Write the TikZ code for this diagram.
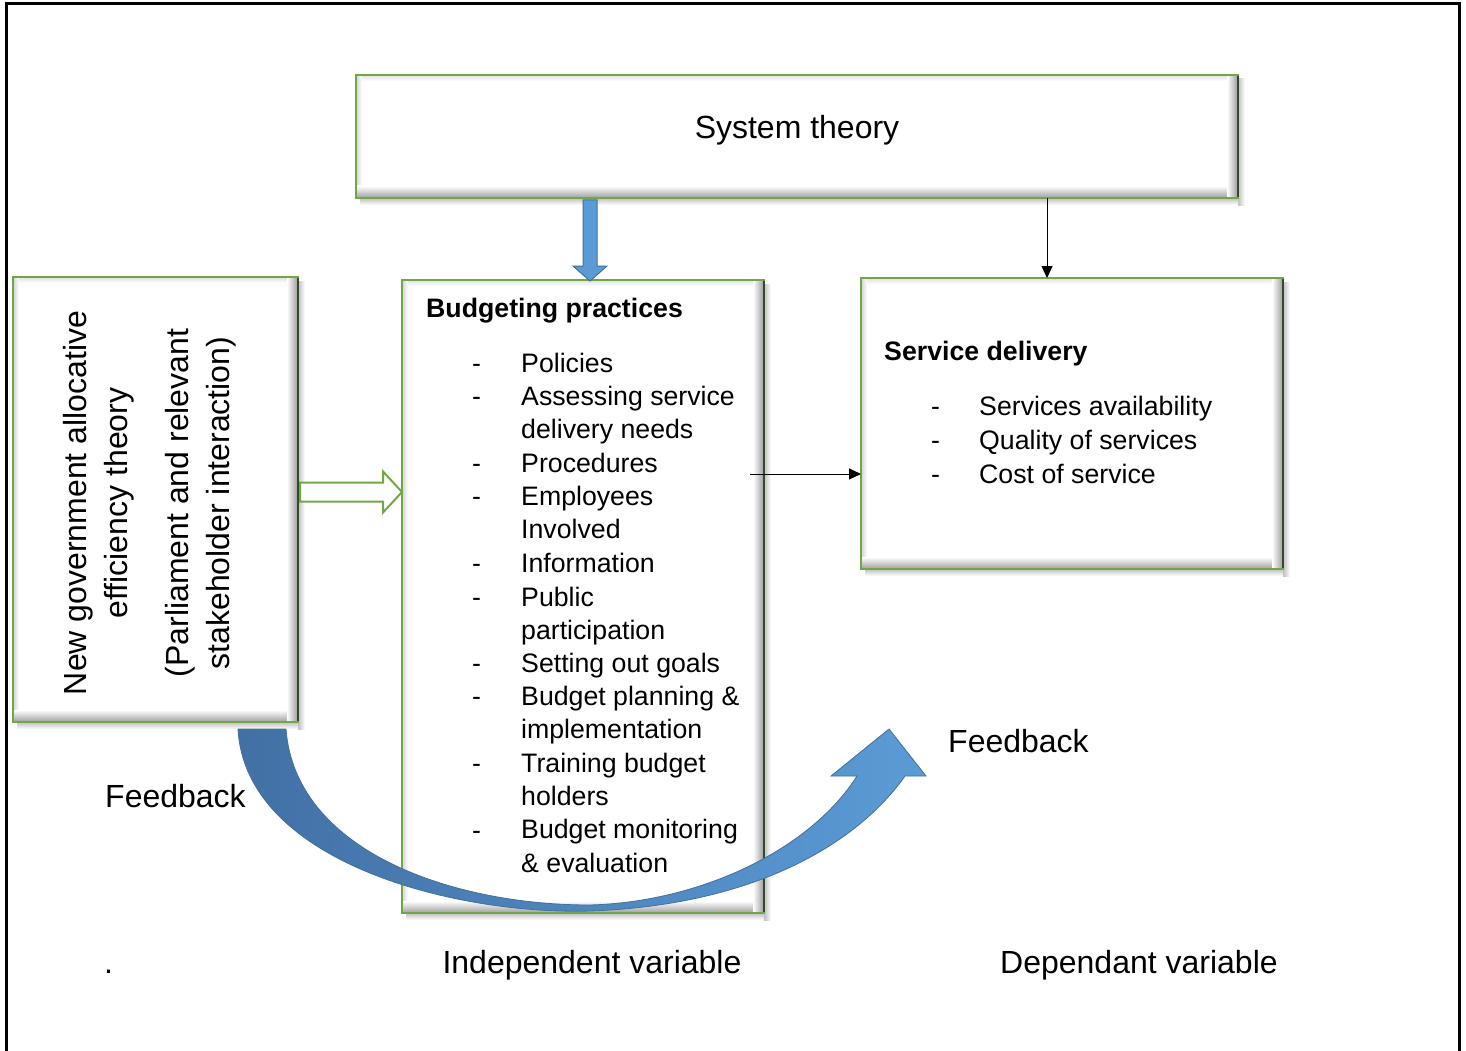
\documentclass[tikz,border=0pt]{standalone}
\usepackage{fontspec}
\setmainfont{Liberation Sans}
\usetikzlibrary{arrows.meta,calc}
\definecolor{bgreen}{RGB}{112,168,71}
\definecolor{bdkgreen}{RGB}{50,75,40}
\definecolor{bblue}{RGB}{91,155,213}
\definecolor{bblueline}{RGB}{65,113,156}
\definecolor{bbluedark}{RGB}{66,112,165}
\newcommand\fbig{\fontsize{32}{41}\selectfont}
\newcommand\fsmall{\fontsize{26.7}{33.4}\selectfont}
\newcommand\mybevel[1]{%
 \shade[left color=gray!50,right color=white] ([yshift=-4pt]#1.north east) rectangle ([xshift=7pt,yshift=-7pt]#1.south east);
 \shade[top color=gray!50,bottom color=white] ([xshift=4pt]#1.south west) rectangle ([yshift=-7pt]#1.south east);
 \shade[top color=gray!25,bottom color=white] (#1.north west) rectangle ([yshift=-6pt]#1.north east);
 \shade[left color=gray!35,right color=white] (#1.north west) rectangle ([xshift=6pt]#1.south west);
 \shade[top color=white,bottom color=gray!75] ([yshift=12pt]#1.south west) rectangle (#1.south east);
 \shade[left color=white,right color=gray!80] ([xshift=-11pt]#1.north east) rectangle (#1.south east);
 \draw[bgreen,line width=2pt] (#1.north west) rectangle (#1.south east);
 \draw[bdkgreen,line width=2pt] ([yshift=-1pt]#1.north east) -- ([yshift=1pt]#1.south east);
}
\begin{document}
\begin{tikzpicture}[x=1pt,y=-1pt,
  box/.style={draw=bgreen,line width=2pt,fill=white,inner sep=0pt,outer sep=0pt},
  txt/.style={inner sep=0pt,anchor=base west,align=left,font=\fsmall},
  bigtxt/.style={inner sep=0pt,font=\fbig},
  thin/.style={line width=1pt,-{Triangle[length=12pt,width=11pt]}}]
\useasboundingbox (0,0) rectangle (1466,1051);
\fill[white] (0,0) rectangle (1466,1051);
\draw[line width=3pt] (6,1051) -- (6,4) -- (1459,4) -- (1459,1051);

% boxes
\node[box,minimum width=882pt,minimum height=123pt] (sys) at (797,136.5) {};
\node[box,minimum width=285pt,minimum height=445pt] (ngat) at (155.5,499.5) {};
\node[box,minimum width=362pt,minimum height=633pt] (bud) at (583,596.5) {};
\node[box,minimum width=422pt,minimum height=291pt] (svc) at (1072,423.5) {};
\mybevel{sys}
\mybevel{ngat}
\mybevel{bud}
\mybevel{svc}

% texts
\node[bigtxt,anchor=base] (systxt) at (797,138.5) {System theory};
\node[bigtxt,anchor=base,rotate=90] (l1) at (86.5,503) {New government allocative};
\node[bigtxt,anchor=base,rotate=90] (l2) at (127.5,503) {efficiency theory};
\node[bigtxt,anchor=base,rotate=90] (l3) at (188.5,503) {(Parliament and relevant};
\node[bigtxt,anchor=base,rotate=90] (l4) at (229.5,503) {stakeholder interaction)};

\node[txt,font=\fsmall\bfseries] (budh) at (426,317.5) {Budgeting practices};
% dash baseline / text last-line baseline / text
\foreach \yy/\ty/\itm [count=\i] in {372.5/372.5/{Policies},405.5/438.9/{Assessing service\\delivery needs},472.5/472.5/{Procedures},505.5/538.9/{Employees\\Involved},572.5/572.5/{Information},606.5/639.9/{Public\\participation},672.5/672.5/{Setting out goals},705.5/738.9/{Budget planning \&\\implementation},772.5/805.9/{Training budget\\holders},839.5/872.1/{Budget monitoring\\\& evaluation}}{
  \node[txt] (bd\i) at (472,\yy) {-};
  \node[txt] (bi\i) at (521,\ty) {\itm};
}
\node[txt,font=\fsmall\bfseries] (svch) at (884,360.5) {Service delivery};
\foreach \yy/\itm [count=\i] in {415.5/{Services availability},449.5/{Quality of services},483.5/{Cost of service}}{
  \node[txt] (sd\i) at (931,\yy) {-};
  \node[txt] (si\i) at (979,\yy) {\itm};
}

\node[bigtxt,anchor=base west] (fb1) at (105,807.5) {Feedback};
\node[bigtxt,anchor=base west] (fb2) at (948,752.5) {Feedback};
\node[bigtxt,anchor=base west] (dot) at (104,973.5) {.};
\node[bigtxt,anchor=base] (indep) at (592,973.5) {Independent variable};
\node[bigtxt,anchor=base west] (dep) at (1000,973.5) {Dependant variable};

% blue block arrow down
\coordinate (bx) at (590,0);
\coordinate (dT) at (sys.south -| bx);
\coordinate (dB) at (bud.north -| bx);
\draw[fill=bblue,draw=bblueline,line width=1pt]
 ([xshift=-7pt,yshift=-2pt]dT) -- ([xshift=7pt,yshift=-2pt]dT) -- ([xshift=7pt,yshift=14pt]dB)
 -- ([xshift=17pt,yshift=14pt]dB) -- ([yshift=-1pt]dB) -- ([xshift=-17pt,yshift=14pt]dB)
 -- ([xshift=-7pt,yshift=14pt]dB) -- cycle;

% thin arrows
\coordinate (sx) at (1047,0);
\draw[thin] (sys.south -| sx) -- (svc.north -| sx);
\coordinate (hs) at (750,474);
\draw[thin] (hs) -- (hs -| svc.west);

% green hollow arrow
\coordinate (gy) at (0,492);
\coordinate (gS) at (ngat.east |- gy);
\coordinate (gE) at (bud.west |- gy);
\draw[bgreen,line width=2pt,fill=white,line join=miter]
 ([xshift=2pt,yshift=9.5pt]gS) -- ([xshift=-19pt,yshift=9.5pt]gE) -- ([xshift=-19pt,yshift=20.5pt]gE)
 -- (gE) -- ([xshift=-19pt,yshift=-20.5pt]gE) -- ([xshift=-19pt,yshift=-9.5pt]gE)
 -- ([xshift=2pt,yshift=-9.5pt]gS) -- cycle;

% curved feedback arrow
\draw[draw=bblueline,line width=0.8pt,left color=bbluedark,right color=bblue]
 (238,729) .. controls (245,860) and (450,915) .. (590,911)
 .. controls (760,905) and (860,840) .. (905,776)
 -- (926,776) -- (889,729) -- (831,776) -- (857,776)
 .. controls (810,850) and (700,902) .. (590,905)
 .. controls (450,905) and (295,850) .. (286,729) -- cycle;
\end{tikzpicture}
\end{document}
